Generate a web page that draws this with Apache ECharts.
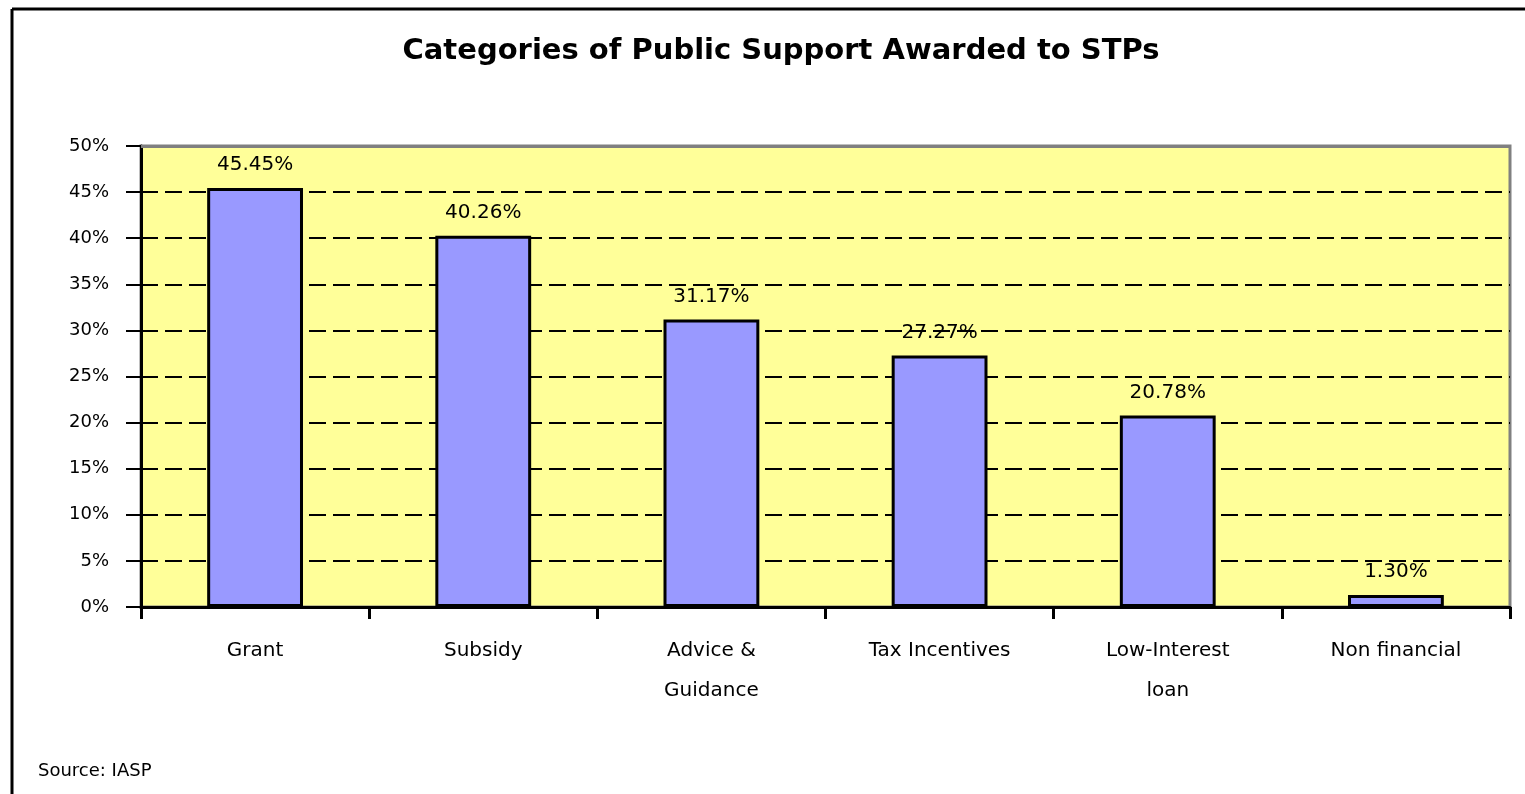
<!DOCTYPE html>
<html><head><meta charset="utf-8">
<script src="https://cdn.jsdelivr.net/npm/echarts@6/dist/echarts.min.js"></script>
<style>html,body{margin:0;padding:0;background:#fff}#c{width:1525px;height:794px}</style>
</head><body><div id="c"></div>
<script>
const categories = ['Grant', 'Subsidy', 'Advice &\nGuidance', 'Tax Incentives', 'Low-Interest\nloan', 'Non financial'];
const values = [45.45, 40.26, 31.17, 27.27, 20.78, 1.30];
const yTicks = [0, 5, 10, 15, 20, 25, 30, 35, 40, 45, 50];
const titleText = 'Categories of Public Support Awarded to STPs';
const sourceText = 'Source: IASP';

const font = 'DejaVu Sans, Liberation Sans, Arial, sans-serif';
const chart = echarts.init(document.getElementById('c'));
chart.setOption({
  animation: false,
  backgroundColor: '#fff',
  title: {
    text: titleText, left: 776, top: 32, textAlign: 'center',
    textStyle: {fontFamily: font, fontSize: 29, fontWeight: 'bold', color: '#000'}
  },
  graphic: [
    {type: 'line', shape: {x1: 12, y1: 9, x2: 1525, y2: 9}, style: {stroke: '#000', lineWidth: 3}},
    {type: 'line', shape: {x1: 12, y1: 9, x2: 12, y2: 794}, style: {stroke: '#000', lineWidth: 3}},
    {type: 'text', left: 38, top: 762, style: {text: sourceText, fontFamily: font, fontSize: 18, fill: '#000'}}
  ],
  grid: {left: 141, right: 15, top: 146, bottom: 187, show: true, backgroundColor: '#ffff99', borderColor: '#808080', borderWidth: 3},
  xAxis: {
    type: 'category', data: categories,
    axisLine: {lineStyle: {color: '#000', width: 3}},
    axisTick: {show: true, length: 12, lineStyle: {color: '#000', width: 3}},
    axisLabel: {fontFamily: font, fontSize: 20, color: '#000', margin: 24, lineHeight: 40, interval: 0}
  },
  yAxis: {
    type: 'value', min: yTicks[0], max: yTicks[yTicks.length - 1], interval: yTicks[1] - yTicks[0],
    axisLine: {show: true, lineStyle: {color: '#000', width: 3}},
    axisTick: {show: true, length: 15, lineStyle: {color: '#000', width: 2}},
    axisLabel: {fontFamily: font, fontSize: 18, color: '#000', margin: 32, formatter: '{value}%'},
    splitLine: {show: true, lineStyle: {color: '#000', width: 2, type: [17, 7]}}
  },
  series: [{
    type: 'bar', data: values, barWidth: '42%',
    itemStyle: {color: '#9999ff', borderColor: '#000', borderWidth: 3},
    label: {show: true, position: 'top', distance: 13, fontFamily: font, fontSize: 20, color: '#000',
      formatter: p => p.value.toFixed(2) + '%'},
    markLine: {
      silent: true, symbol: 'none', label: {show: false},
      lineStyle: {color: '#808080', width: 3, type: 'solid'},
      data: [{yAxis: yTicks[yTicks.length - 1]}]
    }
  }]
});
</script>
</body></html>
